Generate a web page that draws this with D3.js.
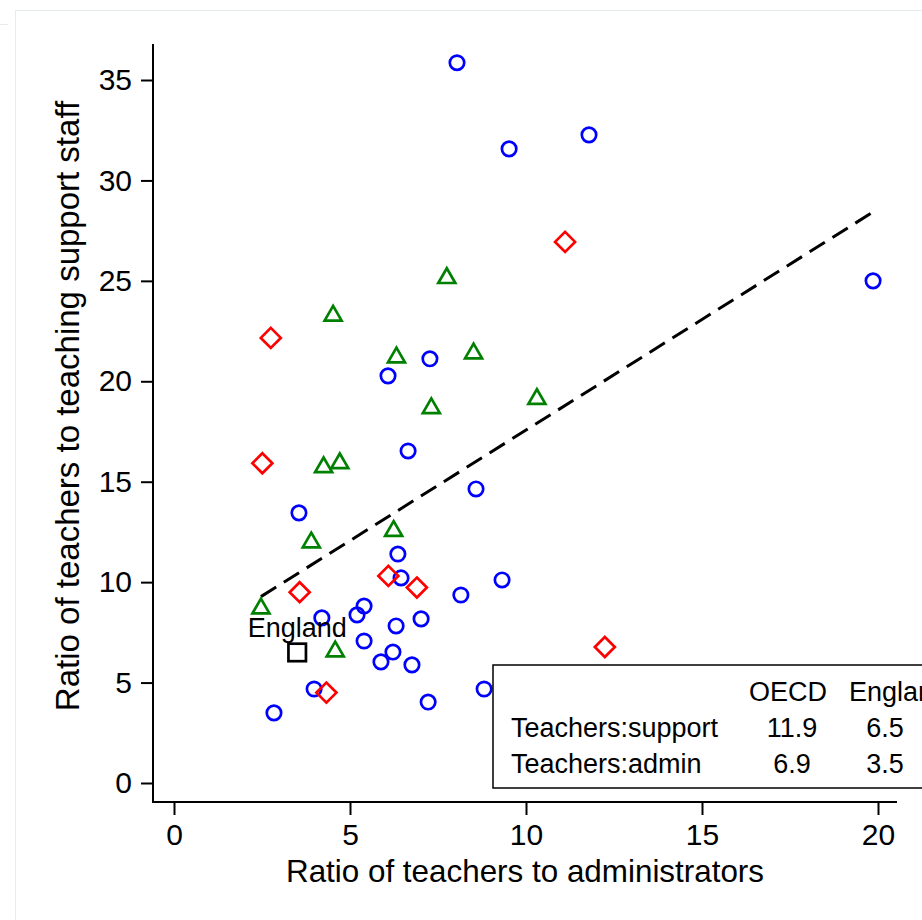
<!DOCTYPE html>
<html>
<head>
<meta charset="utf-8">
<script src="https://cdn.jsdelivr.net/npm/d3@7"></script>
<style>
  html, body { margin: 0; padding: 0; background: #fff; }
  svg { display: block; }
  text { font-family: "Liberation Sans", Arial, Helvetica, sans-serif; fill: #000; }
</style>
</head>
<body>
<svg id="chart" width="922" height="920"></svg>
<script>
// ---- data ----
const circlesX = [8.04, 11.79, 9.52, 19.86, 7.27, 6.08, 6.65, 8.58, 3.55, 6.36, 6.45, 9.32, 8.15, 5.40, 4.20, 5.20, 7.02, 6.31, 5.40, 6.22, 5.88, 6.76, 3.98, 8.81, 7.22, 2.84];
const circlesY = [35.86, 32.27, 31.57, 25.00, 21.12, 20.27, 16.53, 14.64, 13.45, 11.40, 10.21, 10.11, 9.36, 8.81, 8.22, 8.37, 8.17, 7.82, 7.07, 6.52, 6.03, 5.88, 4.68, 4.68, 4.03, 3.49];
const trianglesX = [7.75, 4.52, 6.32, 8.51, 7.31, 10.31, 4.25, 4.71, 3.90, 6.24, 2.47, 4.58];
const trianglesY = [25.26, 23.39, 21.31, 21.51, 18.78, 19.24, 15.84, 16.04, 12.10, 12.67, 8.81, 6.67];
const diamondsX = [11.11, 2.75, 2.51, 6.09, 6.90, 3.57, 4.33, 12.24];
const diamondsY = [26.94, 22.16, 15.92, 10.31, 9.73, 9.50, 4.50, 6.77];
const englandX = [3.5];
const englandY = [6.5];
const englandLabel = "England";
const fitX = [2.47, 19.87];
const fitY = [9.28, 28.44];
const xTicks = [0, 5, 10, 15, 20];
const yTicks = [0, 5, 10, 15, 20, 25, 30, 35];
const xTitle = "Ratio of teachers to administrators";
const yTitle = "Ratio of teachers to teaching support staff";
const tableHeader = ["", "OECD", "England"];
const tableRows = ["Teachers:support", "Teachers:admin"];
const tableOECD = ["11.9", "6.9"];
const tableEngland = ["6.5", "3.5"];

// ---- layout ----
const svg = d3.select("#chart");
const x = d3.scaleLinear().domain([0, 20]).range([174, 878]);
const y = d3.scaleLinear().domain([0, 35]).range([783, 80]);
const axisLeftX = 153, axisBottomY = 802;
const axisXEnd = 897, axisYTop = 44;
const FONT = "Liberation Sans, Arial, sans-serif";

// faint outer frame
svg.append("line").attr("x1", 15).attr("x2", 922).attr("y1", 10.5).attr("y2", 10.5)
  .attr("stroke", "#e6ecee").attr("stroke-width", 1);
svg.append("line").attr("x1", 15.5).attr("x2", 15.5).attr("y1", 10).attr("y2", 920)
  .attr("stroke", "#e6ecee").attr("stroke-width", 1);
svg.append("line").attr("x1", 0).attr("x2", 8).attr("y1", 24.5).attr("y2", 24.5)
  .attr("stroke", "#e6ecee").attr("stroke-width", 1);

// axes
const yAxis = d3.axisLeft(y).tickValues(yTicks).tickSize(12).tickSizeOuter(0).tickPadding(9);
const gy = svg.append("g").attr("transform", `translate(${axisLeftX},0)`).call(yAxis);
gy.select(".domain").remove();
gy.selectAll(".tick line").attr("stroke", "#000").attr("stroke-width", 2);
gy.selectAll(".tick text").attr("font-size", 30).attr("fill", "#000").attr("font-family", FONT);

const xAxis = d3.axisBottom(x).tickValues(xTicks).tickSize(13).tickSizeOuter(0).tickPadding(9);
const gx = svg.append("g").attr("transform", `translate(0,${axisBottomY})`).call(xAxis);
gx.select(".domain").remove();
gx.selectAll(".tick line").attr("stroke", "#000").attr("stroke-width", 2);
gx.selectAll(".tick text").attr("font-size", 30).attr("fill", "#000").attr("font-family", FONT);

svg.append("line").attr("x1", axisLeftX).attr("x2", axisLeftX)
  .attr("y1", axisYTop).attr("y2", axisBottomY + 1).attr("stroke", "#000").attr("stroke-width", 2);
svg.append("line").attr("x1", axisLeftX - 1).attr("x2", axisXEnd)
  .attr("y1", axisBottomY).attr("y2", axisBottomY).attr("stroke", "#000").attr("stroke-width", 2);

// axis titles
svg.append("text").attr("x", 525).attr("y", 882)
  .attr("text-anchor", "middle").attr("font-size", 31.4).text(xTitle);
svg.append("text").attr("transform", `translate(79,406) rotate(-90)`)
  .attr("text-anchor", "middle").attr("font-size", 33).text(yTitle);

// fit line
const line = d3.line().x(d => x(d[0])).y(d => y(d[1]));
svg.append("path").datum(d3.zip(fitX, fitY)).attr("d", line)
  .attr("fill", "none").attr("stroke", "#000").attr("stroke-width", 3)
  .attr("stroke-dasharray", "18,9");

// markers
const circ = d3.zip(circlesX, circlesY);
svg.append("g").selectAll("circle").data(circ).join("circle")
  .attr("cx", d => x(d[0])).attr("cy", d => y(d[1])).attr("r", 7.2)
  .attr("fill", "none").attr("stroke", "#0000ff").attr("stroke-width", 2.7);

const tri = d3.zip(trianglesX, trianglesY);
const ts = 8.5, th = 14.7;
svg.append("g").selectAll("path").data(tri).join("path")
  .attr("d", d => {
    const cx = x(d[0]), cy = y(d[1]);
    return `M${cx},${cy - th / 2}L${cx + ts},${cy + th / 2}L${cx - ts},${cy + th / 2}Z`;
  })
  .attr("fill", "none").attr("stroke", "#008000").attr("stroke-width", 2.7).attr("stroke-linejoin", "miter");

const dia = d3.zip(diamondsX, diamondsY);
const dr = 10;
svg.append("g").selectAll("path").data(dia).join("path")
  .attr("d", d => {
    const cx = x(d[0]), cy = y(d[1]);
    return `M${cx},${cy - dr}L${cx + dr},${cy}L${cx},${cy + dr}L${cx - dr},${cy}Z`;
  })
  .attr("fill", "none").attr("stroke", "#ff0000").attr("stroke-width", 2.7);

const eng = d3.zip(englandX, englandY);
const sq = 17.5;
svg.append("g").selectAll("rect").data(eng).join("rect")
  .attr("x", d => x(d[0]) - sq / 2).attr("y", d => y(d[1]) - sq / 2)
  .attr("width", sq).attr("height", sq)
  .attr("fill", "none").attr("stroke", "#000").attr("stroke-width", 2.7);
svg.append("g").selectAll("text").data(eng).join("text")
  .attr("x", d => x(d[0])).attr("y", d => y(d[1]) - 15)
  .attr("text-anchor", "middle").attr("font-size", 27).text(englandLabel);

// table box
svg.append("rect").attr("x", 493).attr("y", 665).attr("width", 520).attr("height", 123)
  .attr("fill", "#fff").attr("stroke", "#000").attr("stroke-width", 1.5);
const rowY = [701, 737, 773];
svg.append("text").attr("x", 788).attr("y", rowY[0]).attr("text-anchor", "middle")
  .attr("font-size", 27).text(tableHeader[1]);
svg.append("text").attr("x", 849).attr("y", rowY[0]).attr("text-anchor", "start")
  .attr("font-size", 27).text(tableHeader[2]);
tableRows.forEach((r, i) => {
  svg.append("text").attr("x", 511).attr("y", rowY[i + 1]).attr("font-size", 27).text(r);
  svg.append("text").attr("x", 792).attr("y", rowY[i + 1]).attr("text-anchor", "middle")
    .attr("font-size", 27).text(tableOECD[i]);
  svg.append("text").attr("x", 885).attr("y", rowY[i + 1]).attr("text-anchor", "middle")
    .attr("font-size", 27).text(tableEngland[i]);
});
</script>
</body>
</html>
